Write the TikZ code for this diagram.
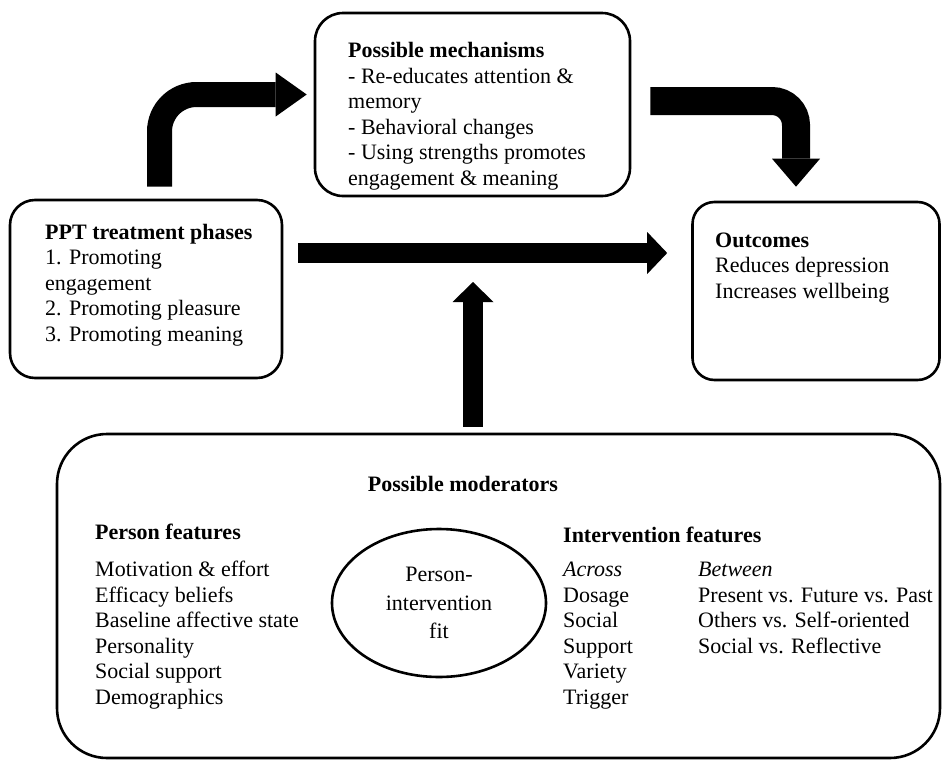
\documentclass[tikz,border=0pt]{standalone}
\usepackage{fontspec}
\setmainfont{Liberation Serif}
\usetikzlibrary{arrows.meta,shapes.geometric}
\tikzset{
  box/.style={draw, line width=2.6pt, inner sep=0pt},
  lbl/.style={anchor=base west, inner sep=0pt, align=left},
  fat/.style={line width=#1},
  tip/.style 2 args={-{Triangle[length=#1pt,width=#2pt,line width=0pt]}},
}
\begin{document}
\begin{tikzpicture}[x=1pt,y=-1pt,font=\fontsize{22}{25.5}\selectfont]
\useasboundingbox (0,0) rectangle (943,761);
% boxes
\node[box, rounded corners=25pt, minimum width=272pt, minimum height=178pt] (ppt) at (146,289) {};
\node[box, rounded corners=28pt, minimum width=315pt, minimum height=183pt] (mech) at (472.5,104.5) {};
\node[box, rounded corners=22pt, minimum width=247pt, minimum height=178pt] (out) at (816,291) {};
\node[box, rounded corners=50pt, minimum width=883pt, minimum height=324pt] (mod) at (498.5,596) {};
\node[box, ellipse, minimum width=214pt, minimum height=148pt, align=center,
      font=\fontsize{22}{28.5}\selectfont] (fit) at (439,603) {Person-\\intervention\\fit};
% texts (base = last line)
\node[lbl] (ppttxt) at (45,341) {\textbf{PPT treatment phases}\\1. Promoting\\engagement\\2. Promoting pleasure\\3. Promoting meaning};
\node[lbl] (mechtxt) at (348,185) {\textbf{Possible mechanisms}\\- Re-educates attention \&\\memory\\- Behavioral changes\\- Using strengths promotes\\engagement \& meaning};
\node[lbl] (outtxt) at (715,298) {\textbf{Outcomes}\\Reduces depression\\Increases wellbeing};
\node[anchor=base, inner sep=0pt] (modtitle) at (463,491) {\textbf{Possible moderators}};
\node[lbl] (pers) at (95,539) {\textbf{Person features}};
\node[lbl] (perslist) at (95,704) {Motivation \& effort\\Efficacy beliefs\\Baseline affective state\\Personality\\Social support\\Demographics};
\node[lbl] (interv) at (563,542) {\textbf{Intervention features}};
\node[lbl] (across) at (563,704) {\textit{Across}\\Dosage\\Social\\Support\\Variety\\Trigger};
\node[lbl] (between) at (698,653) {\textit{Between}\\Present vs. Future vs. Past\\Others vs. Self-oriented\\Social vs. Reflective};
% arrows
\draw[fat=25pt, tip={31}{44}, rounded corners=37pt, shorten >=7pt]
  ([xshift=13.5pt,yshift=12pt]ppt.north) |- ([yshift=10pt]mech.west);
\draw[fat=28pt, tip={28}{48}, rounded corners=24pt, shorten >=14pt]
  ([xshift=19pt,yshift=3.5pt]mech.east) -| ([xshift=-20pt]out.north);
\coordinate (mainst) at ([xshift=15pt,yshift=36pt]ppt.east);
\draw[fat=20pt, tip={20}{42}, shorten >=24pt] (mainst) -- (mainst -| out.west);
\draw[fat=20pt, tip={20}{41}, shorten >=29pt]
  ([xshift=-25.5pt,yshift=6pt]mod.north) -- ([xshift=-25.5pt]mod.north |- mainst);
\end{tikzpicture}
\end{document}
